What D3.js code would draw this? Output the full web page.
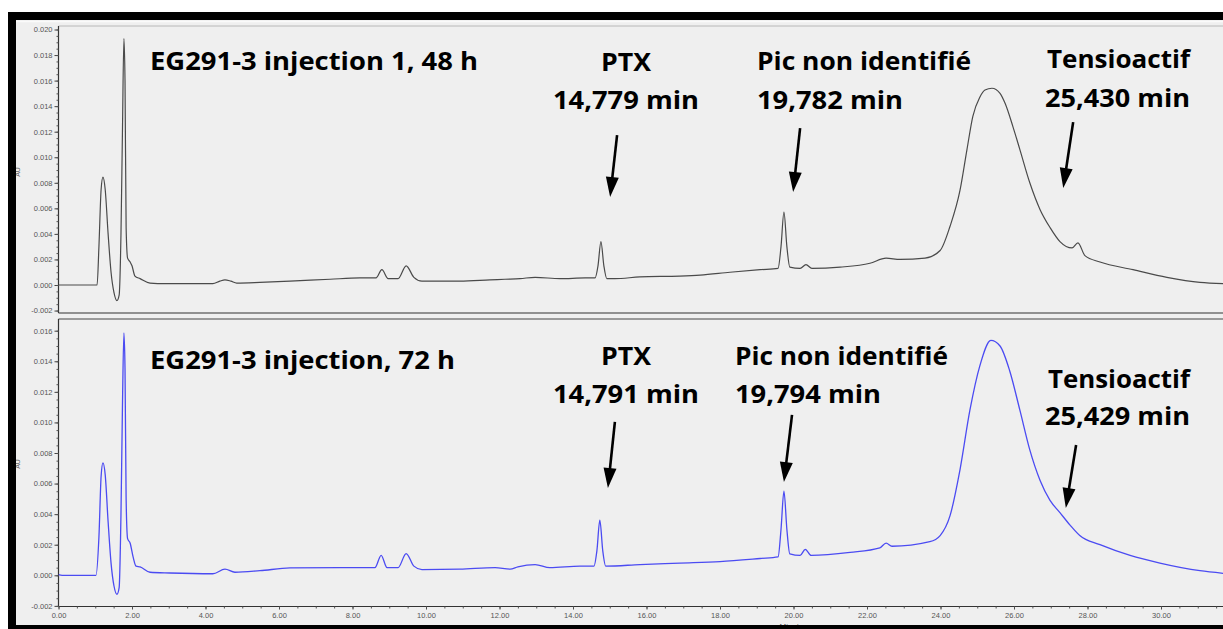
<!DOCTYPE html>
<html><head><meta charset="utf-8">
<script src="https://cdn.jsdelivr.net/npm/d3@7/dist/d3.min.js"></script>
<style>body{margin:0;background:#fff;overflow:hidden}svg{display:block}</style>
</head><body>
<svg id="c" width="1223" height="629"></svg>
<script>
// ---------- DATA ----------
// Top chromatogram: EG291-3 injection 1, 48 h (retention time, min / AU)
const topTime = [0, 0.99, 1.05, 1.10, 1.16, 1.21, 1.27, 1.35, 1.43, 1.51, 1.59, 1.65, 1.70, 1.74, 1.78, 1.81, 1.84, 1.88, 1.95, 2.00, 2.08, 2.22, 2.49, 2.90, 3.85, 4.20, 4.39, 4.53, 4.69, 4.85, 5.48, 6.30, 7.39, 8.20, 8.64, 8.80, 8.97, 9.24, 9.46, 9.67, 9.89, 10.92, 11.74, 12.15, 12.56, 12.97, 13.65, 14.33, 14.60, 14.68, 14.76, 14.84, 14.92, 15.14, 15.82, 16.90, 17.46, 18.27, 19.09, 19.58, 19.66, 19.74, 19.82, 19.90, 20.18, 20.34, 20.50, 21.27, 22.08, 22.52, 22.90, 23.58, 23.99, 24.26, 24.53, 24.72, 24.88, 25.07, 25.21, 25.40, 25.62, 25.76, 25.97, 26.16, 26.43, 26.71, 26.98, 27.25, 27.58, 27.74, 27.93, 28.34, 29.24, 30.16, 31.06, 31.69];
const topAU = [0, 0, 0.0000, 0.0030, 0.0075, 0.00845, 0.0075, 0.0040, 0.0010, -0.0006, -0.00123, -0.0008, 0.0040, 0.0120, 0.0193, 0.0160, 0.0045, 0.0021, 0.0018, 0.0015, 0.0007, 0.0005, 0.00015, 0.0001, 0.0001, 0.0001, 0.0003, 0.0004, 0.0003, 0.00015, 0.0002, 0.0003, 0.00045, 0.00055, 0.00055, 0.0012, 0.0005, 0.0005, 0.0015, 0.0006, 0.0003, 0.0003, 0.0004, 0.00045, 0.0005, 0.0006, 0.0005, 0.00055, 0.00055, 0.0015, 0.0034, 0.0015, 0.0005, 0.0005, 0.00063, 0.0007, 0.00078, 0.0010, 0.0012, 0.0013, 0.0030, 0.0057, 0.0030, 0.0014, 0.0013, 0.0016, 0.0013, 0.0014, 0.0017, 0.0021, 0.0020, 0.0021, 0.0027, 0.0046, 0.0074, 0.0106, 0.0132, 0.0147, 0.01526, 0.0154, 0.0150, 0.0142, 0.0124, 0.0106, 0.0080, 0.0059, 0.0045, 0.0034, 0.0029, 0.0033, 0.0023, 0.0018, 0.0012, 0.0006, 0.0002, 0.0001];

// Bottom chromatogram: EG291-3 injection, 72 h
const botTime = [0, 0.10, 1.02, 1.10, 1.16, 1.21, 1.27, 1.35, 1.43, 1.51, 1.59, 1.65, 1.70, 1.74, 1.78, 1.81, 1.84, 1.88, 1.95, 2.03, 2.11, 2.22, 2.49, 3.03, 4.20, 4.53, 4.80, 5.48, 6.30, 7.66, 8.61, 8.78, 8.94, 9.24, 9.46, 9.67, 9.89, 10.92, 11.88, 12.29, 12.50, 12.97, 13.37, 14.19, 14.57, 14.65, 14.73, 14.81, 14.89, 15.82, 16.91, 18.00, 19.09, 19.58, 19.66, 19.74, 19.82, 19.90, 20.18, 20.32, 20.48, 21.54, 22.35, 22.52, 22.68, 23.71, 23.99, 24.26, 24.53, 24.80, 25.07, 25.37, 25.62, 25.88, 26.16, 26.43, 26.71, 26.98, 27.25, 27.52, 27.79, 28.34, 29.16, 29.97, 31.06, 31.69];
const botAU = [0.00005, 0, 0, 0.0025, 0.0065, 0.00735, 0.0066, 0.0035, 0.0008, -0.0007, -0.00124, -0.0008, 0.0040, 0.0110, 0.01585, 0.0135, 0.0050, 0.0024, 0.0021, 0.0012, 0.0006, 0.00055, 0.0002, 0.00015, 0.0001, 0.0004, 0.0002, 0.0003, 0.00048, 0.0005, 0.0005, 0.0013, 0.0005, 0.0005, 0.00142, 0.0006, 0.00037, 0.0004, 0.0005, 0.0004, 0.00055, 0.0007, 0.0005, 0.0006, 0.0006, 0.0016, 0.0036, 0.0016, 0.0006, 0.0007, 0.0008, 0.0009, 0.0011, 0.0012, 0.0030, 0.0055, 0.0030, 0.0014, 0.0013, 0.0017, 0.0013, 0.0015, 0.0018, 0.0021, 0.0019, 0.0022, 0.0026, 0.0039, 0.0069, 0.0108, 0.0137, 0.01537, 0.0150, 0.0134, 0.0108, 0.0082, 0.0062, 0.0049, 0.0041, 0.0033, 0.0026, 0.0020, 0.0013, 0.0008, 0.0003, 0.00013];

// Tick values / labels
const xTicks = [0, 2, 4, 6, 8, 10, 12, 14, 16, 18, 20, 22, 24, 26, 28, 30, 32];
const xTickLabels = ["0.00","2.00","4.00","6.00","8.00","10.00","12.00","14.00","16.00","18.00","20.00","22.00","24.00","26.00","28.00","30.00","32.00"];
const yTopTicks = [-0.002, 0, 0.002, 0.004, 0.006, 0.008, 0.010, 0.012, 0.014, 0.016, 0.018, 0.020];
const yTopTickLabels = ["-0.002","0.000","0.002","0.004","0.006","0.008","0.010","0.012","0.014","0.016","0.018","0.020"];
const yBotTicks = [-0.002, 0, 0.002, 0.004, 0.006, 0.008, 0.010, 0.012, 0.014, 0.016];
const yBotTickLabels = ["-0.002","0.000","0.002","0.004","0.006","0.008","0.010","0.012","0.014","0.016"];

// Annotation texts
const topLabels = ["EG291-3 injection 1, 48 h", "PTX", "14,779 min", "Pic non identifié", "19,782 min", "Tensioactif", "25,430 min"];
const botLabels = ["EG291-3 injection, 72 h", "PTX", "14,791 min", "Pic non identifié", "19,794 min", "Tensioactif", "25,429 min"];

// ---------- LAYOUT ----------
const W = 1223, H = 629;
const svg = d3.select("#c");
const X0 = 58.5, XR = 1223;
const x = d3.scaleLinear().domain([0, 32.5]).range([X0, X0 + 32.5 * 36.75]);
const yTop = d3.scaleLinear().domain([0, 0.020]).range([285, 29.5]);
const yBot = d3.scaleLinear().domain([0, 0.016]).range([575.3, 330.7]);
const topBox = {y0: 26, y1: 313};
const botBox = {y0: 319, y1: 606.5};

// Text layout (pixel positions: x, baseline, width, anchor)
const topTextLayout = [
  {x:150, y:70, w:328, a:"start"},
  {x:626, y:71, w:50, a:"middle"},
  {x:626, y:109, w:146, a:"middle"},
  {x:757, y:70, w:214, a:"start"},
  {x:757, y:109, w:146, a:"start"},
  {x:1047, y:68, w:143, a:"start"},
  {x:1045, y:107, w:145, a:"start"}
];
const botTextLayout = [
  {x:150, y:369, w:305, a:"start"},
  {x:626, y:365, w:50, a:"middle"},
  {x:626, y:403, w:146, a:"middle"},
  {x:735, y:365, w:213, a:"start"},
  {x:735, y:403, w:146, a:"start"},
  {x:1048, y:388, w:142, a:"start"},
  {x:1045, y:425, w:145, a:"start"}
];
// Arrows in data units: [tStart, auStart, tTip, auTip]
const topArrows = [[15.20, 0.01174, 15.01, 0.00689], [20.18, 0.01228, 19.99, 0.00728], [27.61, 0.01275, 27.34, 0.00759]];
const botArrows = [[15.14, 0.01003, 14.95, 0.00571], [19.96, 0.01049, 19.74, 0.0061], [27.69, 0.00852, 27.41, 0.0044]];

// ---------- DRAW ----------
svg.append("rect").attr("width", W).attr("height", H).attr("fill", "#fff");
svg.append("rect").attr("x", 16).attr("y", 20).attr("width", W - 16).attr("height", 605).attr("fill", "#efefef");
svg.append("line").attr("x1", 16).attr("x2", W).attr("y1", 21.5).attr("y2", 21.5).attr("stroke", "#fafafa").attr("stroke-width", 1.5);

const defs = svg.append("defs");
defs.append("clipPath").attr("id", "clipTop").append("rect").attr("x", X0).attr("y", topBox.y0).attr("width", XR - X0).attr("height", topBox.y1 - topBox.y0);
defs.append("clipPath").attr("id", "clipBot").append("rect").attr("x", X0).attr("y", botBox.y0).attr("width", XR - X0).attr("height", botBox.y1 - botBox.y0);

const tickFont = "'Liberation Sans', Arial, sans-serif";

function yAxis(scale, ticks, labels, box) {
  const fmt = d => labels[ticks.indexOf(d)];
  const g = svg.append("g").attr("transform", `translate(${X0},0)`);
  g.call(d3.axisLeft(scale).tickValues(ticks).tickFormat(fmt).tickSize(4).tickSizeOuter(0).tickPadding(2));
  g.select(".domain").remove();
  g.selectAll("line").attr("stroke", "#444");
  g.selectAll("text").attr("font-family", tickFont).attr("font-size", 7.5).attr("fill", "#555");
  const minor = d3.range(Math.round(ticks[0] / 0.0005), Math.round(ticks[ticks.length - 1] / 0.0005) + 1).map(k => k * 0.0005);
  const gm = svg.append("g").attr("transform", `translate(${X0},0)`);
  gm.call(d3.axisLeft(scale).tickValues(minor).tickFormat("").tickSize(2).tickSizeOuter(0));
  gm.select(".domain").remove();
  gm.selectAll("line").attr("stroke", "#555");
}

// frames
function frame(box, topColor) {
  svg.append("line").attr("x1", X0).attr("x2", XR).attr("y1", box.y0).attr("y2", box.y0).attr("stroke", topColor).attr("stroke-width", 1);
  svg.append("line").attr("x1", X0).attr("x2", X0).attr("y1", box.y0).attr("y2", box.y1).attr("stroke", "#333").attr("stroke-width", 1.2);
  svg.append("line").attr("x1", X0).attr("x2", XR).attr("y1", box.y1).attr("y2", box.y1).attr("stroke", "#333").attr("stroke-width", 1.2);
}
frame(topBox, "#b8b8b8");
frame(botBox, "#444");

yAxis(yTop, yTopTicks, yTopTickLabels, topBox);
yAxis(yBot, yBotTicks, yBotTickLabels, botBox);

// x axis (bottom panel)
const gx = svg.append("g").attr("transform", `translate(0,${botBox.y1})`);
gx.call(d3.axisBottom(x).tickValues(xTicks).tickFormat(d => xTickLabels[xTicks.indexOf(d)]).tickSize(3).tickSizeOuter(0).tickPadding(3));
gx.select(".domain").remove();
gx.selectAll("line").attr("stroke", "#444");
gx.selectAll("text").attr("font-family", tickFont).attr("font-size", 7.5).attr("fill", "#555");
const gxm = svg.append("g").attr("transform", `translate(0,${botBox.y1})`);
gxm.call(d3.axisBottom(x).tickValues(d3.range(0, 66).map(k => k * 0.5)).tickFormat("").tickSize(2).tickSizeOuter(0));
gxm.select(".domain").remove();
gxm.selectAll("line").attr("stroke", "#555");

// AU labels
[[20, 172], [20, 464]].forEach(([px, py]) => {
  svg.append("text").attr("transform", `translate(${px},${py}) rotate(-90)`).attr("text-anchor", "middle")
    .attr("font-family", tickFont).attr("font-size", 7).attr("fill", "#666").text("AU");
});
// Minutes label (partially hidden by the border)
svg.append("text").attr("x", x(20)).attr("y", 629).attr("text-anchor", "middle")
  .attr("font-family", tickFont).attr("font-size", 8).attr("fill", "#555").text("Minutes");

// traces
const line = yS => d3.line().x(d => x(d[0])).y(d => yS(d[1])).curve(d3.curveMonotoneX);
svg.append("path").attr("clip-path", "url(#clipTop)")
  .attr("d", line(yTop)(d3.zip(topTime, topAU)))
  .attr("fill", "none").attr("stroke", "#4a4a4a").attr("stroke-width", 1.2).attr("stroke-linejoin", "round");
svg.append("path").attr("clip-path", "url(#clipBot)")
  .attr("d", line(yBot)(d3.zip(botTime, botAU)))
  .attr("fill", "none").attr("stroke", "#4b4bf2").attr("stroke-width", 1.3).attr("stroke-linejoin", "round");

// annotations
const annFont = "'Open Sans', 'Noto Sans', sans-serif";
function labels(texts, layout) {
  texts.forEach((t, i) => {
    const L = layout[i];
    svg.append("text").attr("x", L.x).attr("y", L.y).attr("text-anchor", L.a)
      .attr("font-family", annFont).attr("font-weight", 700).attr("font-size", 24.5)
      .attr("textLength", L.w).attr("lengthAdjust", "spacingAndGlyphs")
      .attr("fill", "#000").text(t);
  });
}
labels(topLabels, topTextLayout);
labels(botLabels, botTextLayout);

function arrows(list, yS) {
  list.forEach(([t0, v0, t1, v1]) => {
    const xa = x(t0), ya = yS(v0), xb = x(t1), yb = yS(v1);
    const dx = xb - xa, dy = yb - ya, len = Math.hypot(dx, dy);
    const ux = dx / len, uy = dy / len, hl = 20, hw = 6.5;
    const bx = xb - ux * hl, by = yb - uy * hl;
    svg.append("line").attr("x1", xa).attr("y1", ya).attr("x2", bx + ux * 2).attr("y2", by + uy * 2)
      .attr("stroke", "#000").attr("stroke-width", 2.6);
    svg.append("polygon").attr("points", [[xb, yb], [bx - uy * hw, by + ux * hw], [bx + uy * hw, by - ux * hw]].map(p => p.join(",")).join(" "))
      .attr("fill", "#000");
  });
}
arrows(topArrows, yTop);
arrows(botArrows, yBot);

// black border
svg.append("rect").attr("x", 8).attr("y", 12).attr("width", W - 8).attr("height", 8).attr("fill", "#000");
svg.append("rect").attr("x", 8).attr("y", 12).attr("width", 8).attr("height", H - 12).attr("fill", "#000");
svg.append("rect").attr("x", 8).attr("y", 625).attr("width", W - 8).attr("height", 4).attr("fill", "#000");
</script>
</body></html>
